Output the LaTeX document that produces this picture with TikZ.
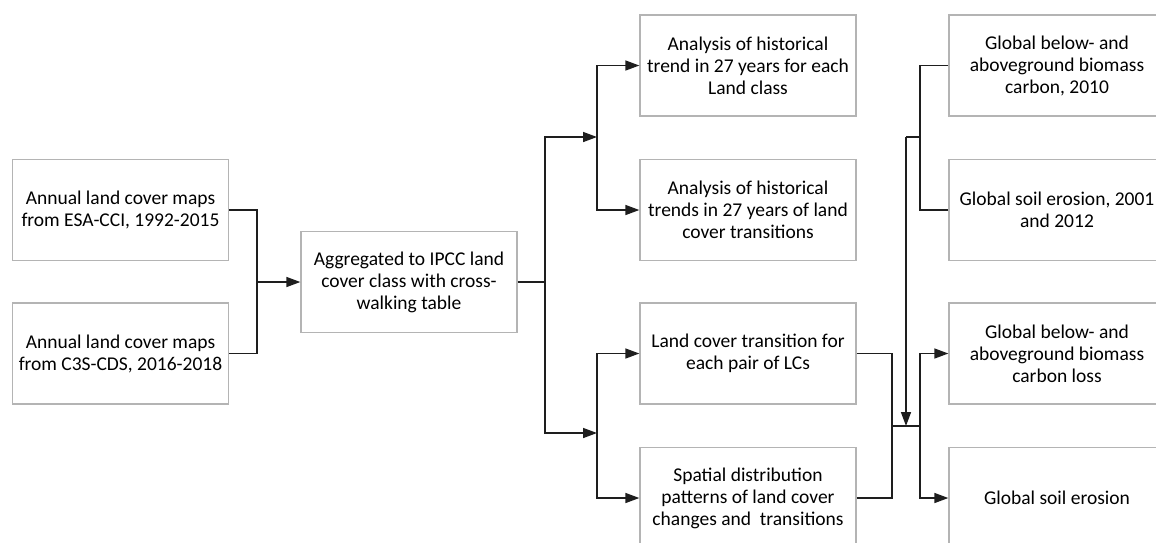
\documentclass[tikz,border=0pt]{standalone}
\usepackage{fontspec}
\setmainfont{Carlito}
\usetikzlibrary{arrows.meta}

\definecolor{boxGray}{HTML}{B4B4B4}
\definecolor{lineDark}{HTML}{1E1E1E}

\tikzset{
    procbox/.style={draw=boxGray, line width=1.3pt, minimum width=216pt, minimum height=101pt,
        inner sep=0pt, align=center, font=\fontsize{19.5}{22}\selectfont},
    flow/.style={lineDark, line width=1.5pt},
    flowarrow/.style={flow, -{Triangle[length=14pt,width=10pt]}}
}

\begin{document}
\begin{tikzpicture}[x=1pt, y=-1pt]
    \path[use as bounding box, clip] (0,0) rectangle (1156,542);

    % input maps
    \node[procbox] (L1) at (120.5,210) {Annual land cover maps\\from ESA-CCI, 1992-2015};
    \node[procbox] (L2) at (120.5,353.5) {Annual land cover maps\\from C3S-CDS, 2016-2018};

    \node[procbox] (M) at (409,282) {Aggregated to IPCC land\\cover class with cross-\\walking table};

    % analyses
    \node[procbox] (A) at (748,65.5) {Analysis of historical\\trend in 27 years for each\\Land class};
    \node[procbox] (B) at (748,210) {Analysis of historical\\trends in 27 years of land\\cover transitions};
    \node[procbox] (C) at (748,353.5) {Land cover transition for\\each pair of LCs};
    \node[procbox] (D) at (748,498) {Spatial distribution\\patterns of land cover\\changes and\ \ transitions};

    % global data and results
    \node[procbox] (E) at (1057,65.5) {Global below- and\\aboveground biomass\\carbon, 2010};
    \node[procbox] (F) at (1057,210) {Global soil erosion, 2001\\and 2012};
    \node[procbox] (G) at (1057,353.5) {Global below- and\\aboveground biomass\\carbon loss};
    \node[procbox] (H) at (1057,498) {Global soil erosion};

    % junctions
    \coordinate (j1) at (257,282);
    \coordinate (j2) at (545,282);
    \coordinate (j2a) at (597,137);
    \coordinate (j2b) at (597,433);
    \coordinate (j3) at (892,426);
    \coordinate (j4) at (920,426);
    \coordinate (j5) at (920,137);
    \coordinate (j6) at (906,137);

    \draw[flow] (L1.east) -| (j1);
    \draw[flow] (L2.east) -| (j1);
    \draw[flowarrow] (j1) -- (M.west);

    \draw[flow] (M.east) -- (j2);
    \draw[flowarrow] (j2) |- (j2a);
    \draw[flowarrow] (j2) |- (j2b);
    \draw[flowarrow] (j2a) |- (A.west);
    \draw[flowarrow] (j2a) |- (B.west);
    \draw[flowarrow] (j2b) |- (C.west);
    \draw[flowarrow] (j2b) |- (D.west);

    \draw[flow] (C.east) -| (j3);
    \draw[flow] (D.east) -| (j3);
    \draw[flow] (j3) -- (j4);
    \draw[flowarrow] (j4) |- (G.west);
    \draw[flowarrow] (j4) |- (H.west);

    \draw[flow] (E.west) -| (j5);
    \draw[flow] (F.west) -| (j5);
    \draw[flow] (j5) -- (j6);
    \draw[flowarrow] (j6) -- (j6 |- j4);
\end{tikzpicture}
\end{document}
